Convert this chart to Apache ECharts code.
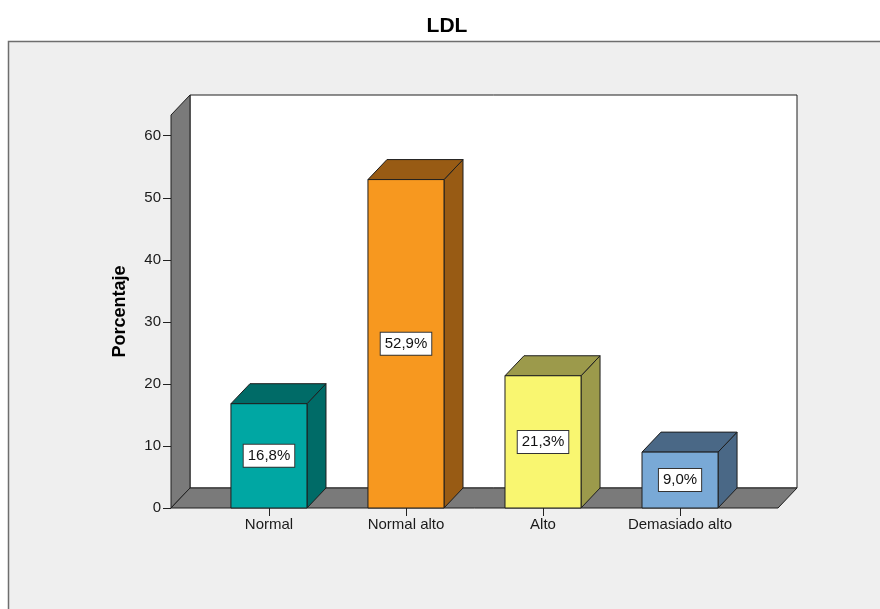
<!DOCTYPE html>
<html>
<head>
<meta charset="utf-8">
<title>LDL</title>
<script src="https://cdn.jsdelivr.net/npm/echarts@6/dist/echarts.min.js"></script>
<style>
  html, body { margin: 0; padding: 0; background: #ffffff; }
  #chart { width: 880px; height: 609px; }
</style>
</head>
<body>
<div id="chart"></div>
<script>
// LDL levels: share of cases per category (percent)
const categories = ['Normal', 'Normal alto', 'Alto', 'Demasiado alto'];
const percentages = [16.8, 52.9, 21.3, 9.0];
const yTicks = [0, 10, 20, 30, 40, 50, 60];
const categoryTicks = [0, 1, 2, 3];

// bar face colours and the darker shade used for top and side faces
const frontColors = ['#00A7A3', '#F7981F', '#F9F670', '#79A9D6'];
const shadeColors = ['#006B67', '#985B14', '#9C9A4B', '#4A6886'];

// axis extents (x axis is numeric so the walls can extend past the outer bars)
const X_MIN = -0.715, X_MAX = 3.715, Y_MAX = 63.3;
const DEPTH_X = 19, DEPTH_Y = 20;   // pseudo-3D depth offset in px
const BAR_WIDTH = 0.555;            // in category units
const EDGE = '#1e1e1e';
const FONT = '"Liberation Sans", Arial, sans-serif';

function formatPct(v) {
  return v.toFixed(1).replace('.', ',') + '%';
}

// back wall, left wall and floor of the 3D box, plus the outward y ticks
function renderWalls(params, api) {
  const p0 = api.coord([X_MIN, 0]);
  const p1 = api.coord([X_MAX, Y_MAX]);
  const l = p0[0], b = p0[1], r = p1[0], t = p1[1];
  const dx = DEPTH_X, dy = DEPTH_Y;
  const ticks = yTicks.map(function (v) {
    const y = Math.round(api.coord([X_MIN, v])[1]) + 0.5;
    return { type: 'line', shape: { x1: l - 8, y1: y, x2: l, y2: y },
             style: { stroke: '#222', lineWidth: 1 } };
  });
  return {
    type: 'group',
    children: [
      { type: 'rect', shape: { x: l + dx, y: t - dy, width: r - l, height: b - t },
        style: { fill: '#ffffff', stroke: EDGE, lineWidth: 1 } },
      { type: 'polygon', shape: { points: [[l, b], [l, t], [l + dx, t - dy], [l + dx, b - dy]] },
        style: { fill: '#7a7a7a', stroke: EDGE, lineWidth: 1 } },
      { type: 'polygon', shape: { points: [[l, b], [r, b], [r + dx, b - dy], [l + dx, b - dy]] },
        style: { fill: '#7a7a7a', stroke: EDGE, lineWidth: 1 } }
    ].concat(ticks)
  };
}

// one 3D bar: front face, top, right side and a boxed value label
function renderBar(params, api) {
  const i = api.value(0);
  const v = api.value(1);
  const base = api.coord([i, 0]);
  const top = api.coord([i, v])[1];
  const cx = base[0], b = base[1];
  const half = api.size([BAR_WIDTH, 0])[0] / 2;
  const xl = cx - half, xr = cx + half;
  const dx = DEPTH_X, dy = DEPTH_Y;
  const idx = params.dataIndex;
  const line = { stroke: EDGE, lineWidth: 1 };
  return {
    type: 'group',
    children: [
      { type: 'polygon', shape: { points: [[xr, b], [xr, top], [xr + dx, top - dy], [xr + dx, b - dy]] },
        style: Object.assign({ fill: shadeColors[idx] }, line) },
      { type: 'polygon', shape: { points: [[xl, top], [xl + dx, top - dy], [xr + dx, top - dy], [xr, top]] },
        style: Object.assign({ fill: shadeColors[idx] }, line) },
      { type: 'rect', shape: { x: xl, y: top, width: xr - xl, height: b - top },
        style: Object.assign({ fill: frontColors[idx] }, line) },
      { type: 'text', x: cx, y: (top + b) / 2, z2: 10,
        style: {
          text: formatPct(v), fill: '#111111', fontSize: 15, fontFamily: FONT,
          lineHeight: 16, align: 'center', verticalAlign: 'middle',
          backgroundColor: '#ffffff', borderColor: '#333333', borderWidth: 1,
          padding: [3, 4]
        } }
    ]
  };
}

const chart = echarts.init(document.getElementById('chart'));
chart.setOption({
  animation: false,
  backgroundColor: '#ffffff',
  graphic: [
    { type: 'rect', z: -10, shape: { x: 8.5, y: 41.5, width: 900, height: 600 },
      style: { fill: '#efefef', stroke: '#6e6e6e', lineWidth: 1.5 } },
    { type: 'text', x: 447, y: 26,
      style: { text: 'LDL', fontSize: 21, fontWeight: 'bold', fontFamily: FONT, fill: '#000000',
               align: 'center', verticalAlign: 'middle' } }
  ],
  grid: { left: 171, right: 102, top: 115, bottom: 101, containLabel: false },
  xAxis: {
    type: 'value', min: X_MIN, max: X_MAX,
    axisLine: { show: false },
    splitLine: { show: false },
    axisTick: { show: true, customValues: categoryTicks, length: 8, lineStyle: { color: '#222', width: 1 } },
    axisLabel: {
      customValues: categoryTicks,
      formatter: function (v) { return categories[Math.round(v)]; },
      margin: 9, fontSize: 15, color: '#1a1a1a', fontFamily: FONT
    }
  },
  yAxis: {
    type: 'value', min: 0, max: Y_MAX,
    axisLine: { show: false },
    splitLine: { show: false },
    axisTick: { show: false },
    axisLabel: { customValues: yTicks, margin: 10, fontSize: 15, color: '#1a1a1a', fontFamily: FONT },
    name: 'Porcentaje', nameLocation: 'middle', nameGap: 42,
    nameTextStyle: { fontSize: 18, fontWeight: 'bold', color: '#000', fontFamily: FONT }
  },
  series: [
    { type: 'custom', name: 'walls', z: 1, silent: true, clip: false,
      renderItem: renderWalls, data: [[0, 0]] },
    { type: 'custom', name: 'LDL', z: 2, clip: false,
      renderItem: renderBar,
      encode: { x: 0, y: 1 },
      data: percentages.map(function (v, i) { return [i, v]; }) }
  ]
});
</script>
</body>
</html>
